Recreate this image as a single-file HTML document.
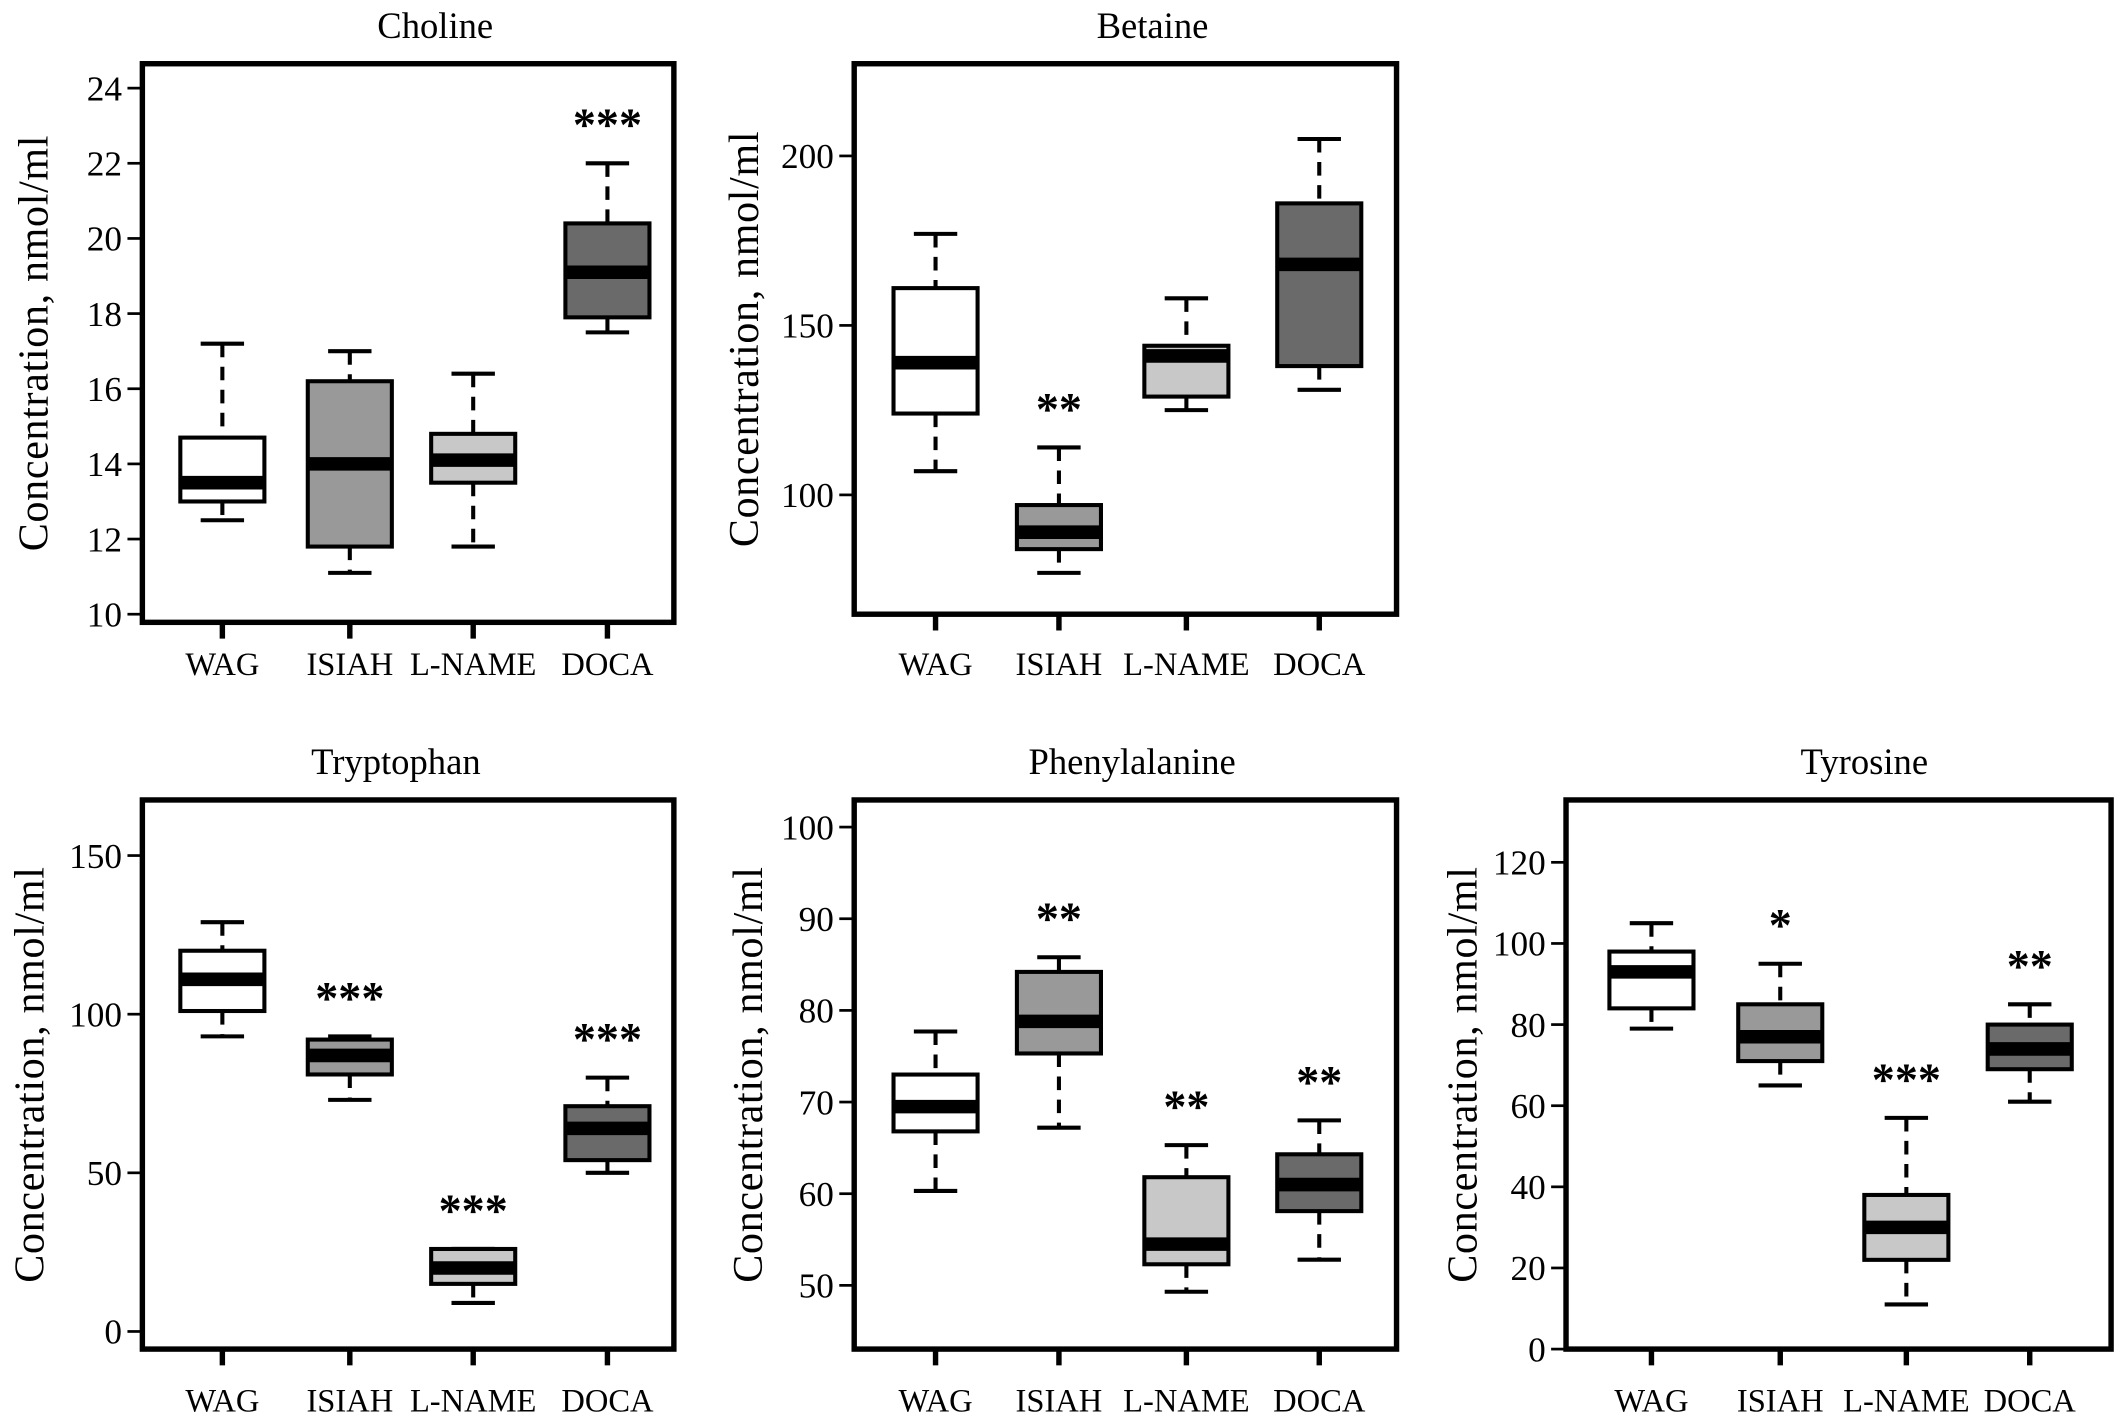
<!DOCTYPE html>
<html><head><meta charset="utf-8"><style>
html,body{margin:0;padding:0;background:#fff;}
svg{display:block;}
text{font-family:"Liberation Serif",serif;fill:#000;}
</style></head><body>
<svg id="chart" width="2126" height="1428" viewBox="0 0 1568 1053.2" xmlns="http://www.w3.org/2000/svg"></svg>
<script>
const categories=["WAG","ISIAH","L-NAME","DOCA"];
const fills=["#ffffff","#999999","#c8c8c8","#6a6a6a"];

const cholineMin=[12.5,11.1,11.8,17.5];
const cholineQ1=[13.0,11.8,13.5,17.9];
const cholineMed=[13.5,14.0,14.1,19.1];
const cholineQ3=[14.7,16.2,14.8,20.4];
const cholineMax=[17.2,17.0,16.4,22.0];
const cholineStars=["","","","***"];
const cholineTicks=[10,12,14,16,18,20,22,24];

const betaineMin=[107,77,125,131];
const betaineQ1=[124,84,129,138];
const betaineMed=[139,89,141,168];
const betaineQ3=[161,97,144,186];
const betaineMax=[177,114,158,205];
const betaineStars=["","**","",""];
const betaineTicks=[100,150,200];

const tryptophanMin=[93,73,9,50];
const tryptophanQ1=[101,81,15,54];
const tryptophanMed=[111,87,20,64];
const tryptophanQ3=[120,92,26,71];
const tryptophanMax=[129,93,26,80];
const tryptophanStars=["","***","***","***"];
const tryptophanTicks=[0,50,100,150];

const phenylalanineMin=[60.3,67.2,49.3,52.8];
const phenylalanineQ1=[66.8,75.3,52.3,58.1];
const phenylalanineMed=[69.5,78.8,54.5,61.0];
const phenylalanineQ3=[73.0,84.2,61.8,64.3];
const phenylalanineMax=[77.7,85.8,65.3,68.0];
const phenylalanineStars=["","**","**","**"];
const phenylalanineTicks=[50,60,70,80,90,100];

const tyrosineMin=[79,65,11,61];
const tyrosineQ1=[84,71,22,69];
const tyrosineMed=[93,77,30,74];
const tyrosineQ3=[98,85,38,80];
const tyrosineMax=[105,95,57,85];
const tyrosineStars=["","*","***","**"];
const tyrosineTicks=[0,20,40,60,80,100,120];

const NS="http://www.w3.org/2000/svg";
const svg=document.getElementById("chart");
function mk(tag,attrs,parent){const e=document.createElementNS(NS,tag);for(const k in attrs)e.setAttribute(k,attrs[k]);(parent||svg).appendChild(e);return e;}

function panel(p){
  const g=mk("g",{});
  
  
  const yS=v=>p.y0px+(v-p.v0)*(p.y1px-p.y0px)/(p.v1-p.v0);
  const t=mk("text",{x:p.tx,y:p.fy0-19,"text-anchor":"middle","font-size":27},g);t.textContent=p.title;
  
  
  const yt=mk("text",{x:0,y:0,"text-anchor":"middle","font-size":31,"letter-spacing":"0.5",transform:`translate(${p.ytx},${(p.fy0+p.fy1)/2}) rotate(-90)`},g);yt.textContent="Concentration, nmol/ml";
  
  
  p.ticks.forEach(v=>{const y=yS(v);mk("line",{x1:p.fx0-11,x2:p.fx0,y1:y,y2:y,stroke:"#000","stroke-width":2},g);
    const tl=mk("text",{x:p.fx0-15,y:y+9,"text-anchor":"end","font-size":26},g);tl.textContent=v;
    
    });
  categories.forEach((c,i)=>{const x=p.cx[i];
    mk("line",{x1:x,x2:x,y1:p.fy1,y2:p.fy1+12,stroke:"#000","stroke-width":4},g);
    const xl=mk("text",{x:x,y:p.xly,"text-anchor":"middle","font-size":24},g);xl.textContent=c;
    
    
    const bg=mk("g",{},g);
    
    
    const w=31,cw=16;
    const ymin=yS(p.min[i]),ymax=yS(p.max[i]),q1=yS(p.q1[i]),q3=yS(p.q3[i]),md=yS(p.med[i]);
    mk("line",{x1:x,x2:x,y1:ymax,y2:q3,stroke:"#000","stroke-width":3,"stroke-dasharray":"10,7"},bg);
    mk("line",{x1:x,x2:x,y1:q1,y2:ymin,stroke:"#000","stroke-width":3,"stroke-dasharray":"10,7"},bg);
    mk("line",{x1:x-cw,x2:x+cw,y1:ymax,y2:ymax,stroke:"#000","stroke-width":3},bg);
    mk("line",{x1:x-cw,x2:x+cw,y1:ymin,y2:ymin,stroke:"#000","stroke-width":3},bg);
    mk("rect",{x:x-w,y:q3,width:2*w,height:q1-q3,fill:fills[i],stroke:"#000","stroke-width":3},bg);
    mk("line",{x1:x-w,x2:x+w,y1:md,y2:md,stroke:"#000","stroke-width":10},bg);
    if(p.stars[i]){const s=mk("text",{x:x,y:ymax-17,"text-anchor":"middle","font-size":34,"font-weight":"bold","font-family":"Liberation Sans, sans-serif"},g);s.textContent=p.stars[i];
      
      }
  });
  const fr=mk("rect",{x:p.fx0,y:p.fy0,width:p.fx1-p.fx0,height:p.fy1-p.fy0,fill:"none",stroke:"#000","stroke-width":4},g);
  
  
}
const cxA=[164,258,349,448], cxB=[690,781,875,973], cxC=[1218,1313,1406,1497];
panel({name:"choline",title:"Choline",tx:321,ytx:35,xly:498,fx0:105,fx1:497,fy0:47,fy1:459,v0:10,v1:24,y0px:453,y1px:65,cx:cxA,ticks:cholineTicks,min:cholineMin,q1:cholineQ1,med:cholineMed,q3:cholineQ3,max:cholineMax,stars:cholineStars});
panel({name:"betaine",title:"Betaine",tx:850,ytx:559,xly:498,fx0:630,fx1:1030,fy0:47,fy1:453,v0:100,v1:200,y0px:365,y1px:115,cx:cxB,ticks:betaineTicks,min:betaineMin,q1:betaineQ1,med:betaineMed,q3:betaineQ3,max:betaineMax,stars:betaineStars});
panel({name:"tryptophan",title:"Tryptophan",tx:292,ytx:32,xly:1041,fx0:105,fx1:497,fy0:590,fy1:995,v0:0,v1:150,y0px:982,y1px:631,cx:cxA,ticks:tryptophanTicks,min:tryptophanMin,q1:tryptophanQ1,med:tryptophanMed,q3:tryptophanQ3,max:tryptophanMax,stars:tryptophanStars});
panel({name:"phenylalanine",title:"Phenylalanine",tx:835,ytx:562,xly:1041,fx0:630,fx1:1030,fy0:590,fy1:995,v0:50,v1:100,y0px:948,y1px:610,cx:cxB,ticks:phenylalanineTicks,min:phenylalanineMin,q1:phenylalanineQ1,med:phenylalanineMed,q3:phenylalanineQ3,max:phenylalanineMax,stars:phenylalanineStars});
panel({name:"tyrosine",title:"Tyrosine",tx:1375,ytx:1089,xly:1041,fx0:1155,fx1:1557,fy0:590,fy1:995,v0:0,v1:120,y0px:995,y1px:636,cx:cxC,ticks:tyrosineTicks,min:tyrosineMin,q1:tyrosineQ1,med:tyrosineMed,q3:tyrosineQ3,max:tyrosineMax,stars:tyrosineStars});
</script>
</body></html>
